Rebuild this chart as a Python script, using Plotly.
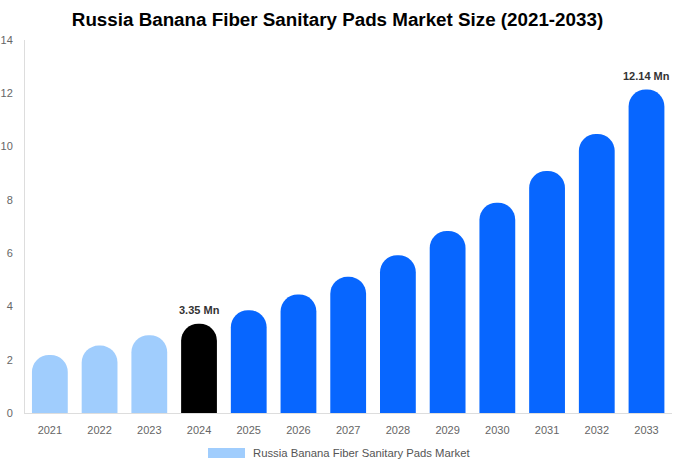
import plotly.graph_objects as go

years = ["2021", "2022", "2023", "2024", "2025", "2026", "2027", "2028", "2029", "2030", "2031", "2032", "2033"]
values = [2.18, 2.53, 2.92, 3.35, 3.86, 4.45, 5.11, 5.92, 6.83, 7.89, 9.08, 10.47, 12.14]
colors = ["#a0cdfd"] * 3 + ["#000000"] + ["#0766ff"] * 9
labeled = {"2024": "3.35 Mn", "2033": "12.14 Mn"}
series_name = "Russia Banana Fiber Sanitary Pads Market"
title = "Russia Banana Fiber Sanitary Pads Market Size (2021-2033)"
y_ticks = [0, 2, 4, 6, 8, 10, 12, 14]

fig = go.Figure()
fig.add_trace(go.Bar(
    x=years, y=values, name=series_name,
    marker=dict(color=colors, cornerradius="50%", line=dict(width=0)),
    showlegend=False, hoverinfo="x+y",
))

for yr, txt in labeled.items():
    i = years.index(yr)
    fig.add_annotation(
        x=i, y=values[i], text="<b>" + txt + "</b>",
        showarrow=False, yanchor="bottom", yshift=6,
        font=dict(family="Liberation Sans, Arial, sans-serif", size=11, color="#333333"),
    )

# legend drawn manually to match the wide swatch
fig.add_shape(type="rect", xref="paper", yref="paper",
              x0=(208 - 25) / 647, x1=(245 - 25) / 647,
              y0=-(448 - 413) / 373, y1=-(458 - 413) / 373,
              fillcolor="#a0cdfd", line=dict(width=0))
fig.add_annotation(xref="paper", yref="paper", x=(251 - 25) / 647, y=-(453 - 413) / 373,
                   text=series_name, showarrow=False, xanchor="left", yanchor="middle",
                   font=dict(family="Liberation Sans, Arial, sans-serif", size=11.3, color="#555555"))

fig.update_layout(
    width=675, height=469,
    margin=dict(l=25, r=3, t=40, b=56),
    paper_bgcolor="white", plot_bgcolor="white",
    title=dict(text="<b>" + title + "</b>", x=0.5, xanchor="center", y=0.9595, yanchor="middle",
               font=dict(family="Liberation Sans, Arial, sans-serif", size=18.8, color="#000000")),
    bargap=0.28,
    font=dict(family="Liberation Sans, Arial, sans-serif"),
    xaxis=dict(type="category", showline=True, linecolor="#dddddd", linewidth=1, showgrid=False,
               tickfont=dict(size=11, color="#666666"), ticks="", ticklabelstandoff=7,
               automargin=False),
    yaxis=dict(range=[0, 14], tickvals=y_ticks, showline=True, linecolor="#dddddd", linewidth=1,
               showgrid=False, zeroline=False, tickfont=dict(size=11, color="#666666"),
               ticks="", ticklabelstandoff=9, automargin=False),
)

fig.write_html("out.html", config={"displayModeBar": False},
               post_script="document.body.style.margin='0';document.body.style.overflow='hidden';")
